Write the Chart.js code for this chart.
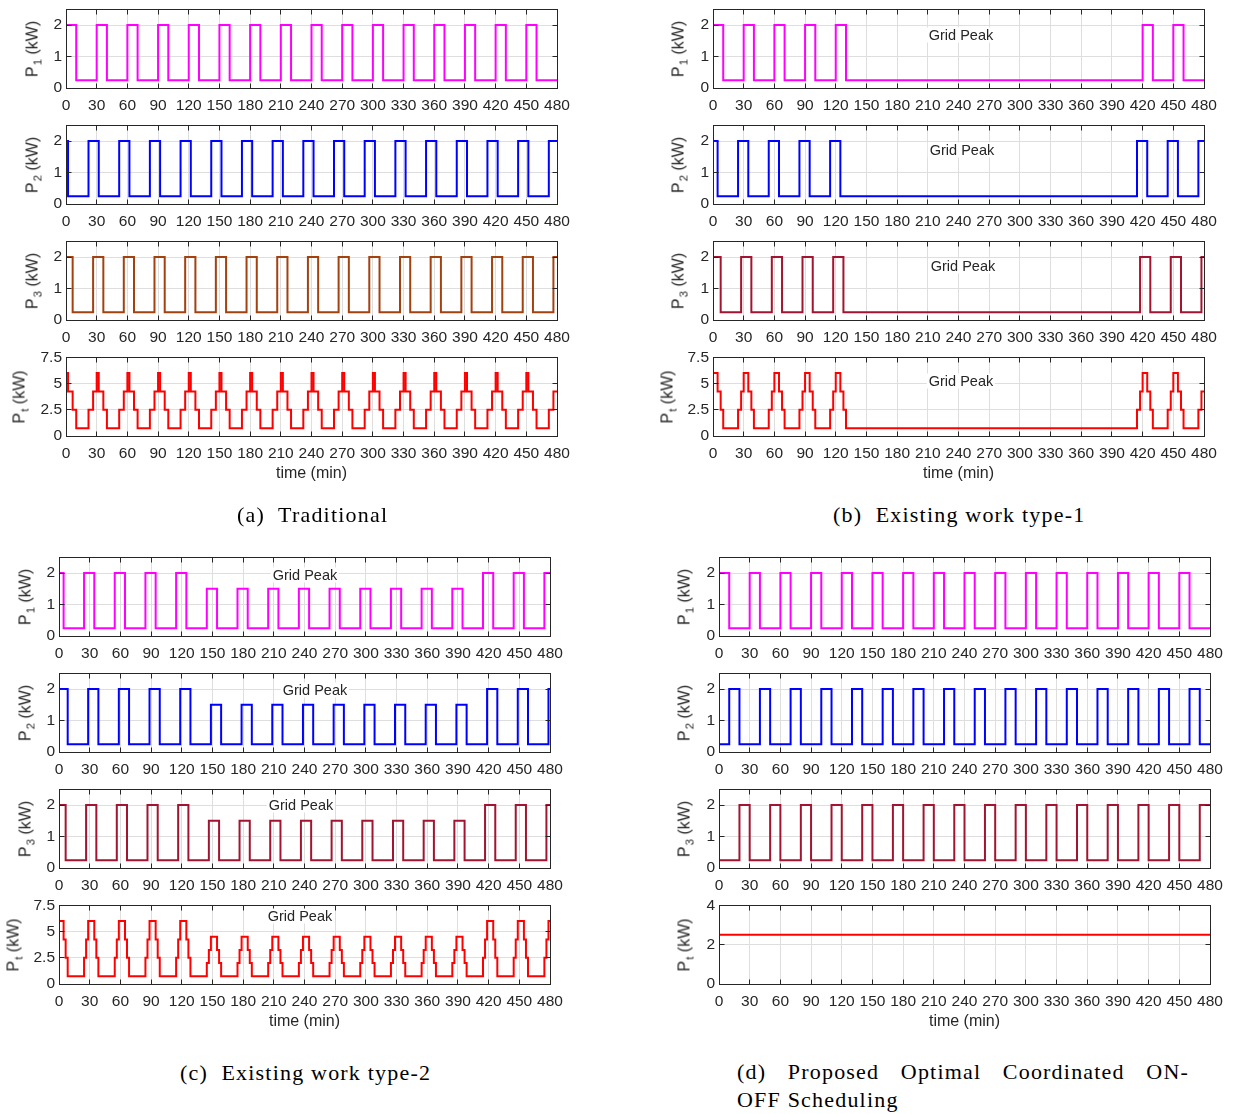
<!DOCTYPE html>
<html>
<head>
<meta charset="utf-8">
<script src="https://cdn.jsdelivr.net/npm/chart.js@4.4.0/dist/chart.umd.min.js"></script>
<style>
html,body{margin:0;padding:0;background:#fff;}
#fig{position:relative;width:1235px;height:1114px;overflow:hidden;background:#fff;}
#fig canvas{position:absolute;}
.ylab{position:absolute;font-family:"Liberation Sans",Arial,sans-serif;font-size:16px;line-height:16px;color:#262626;white-space:nowrap;transform:translate(-50%,-50%) rotate(-90deg);}
.ylab .s{font-size:11.5px;position:relative;top:4px;margin-left:1px;}
.xlab{position:absolute;font-family:"Liberation Sans",Arial,sans-serif;font-size:16px;color:#262626;white-space:nowrap;transform:translate(-50%,-50%);}
.gp{position:absolute;font-family:"Liberation Sans",Arial,sans-serif;font-size:14.5px;line-height:15px;color:#262626;background:#fff;padding:0 2px;white-space:nowrap;transform:translate(-50%,-50%);}
.cap{position:absolute;font-family:"Liberation Serif","Times New Roman",serif;font-size:22px;color:#000;white-space:pre;letter-spacing:1.2px;}
</style>
</head>
<body>
<div id="fig"></div>
<script>
// ---------- tick labels ----------
const X_TICKS = [0,30,60,90,120,150,180,210,240,270,300,330,360,390,420,450,480];
const P_YTICKS = [0,1,2];
const PT_YTICKS = [0,2.5,5,7.5];
const PT_D_YTICKS = [0,2,4];

// ---------- (a) Traditional ----------
const A_P1_T = [0,10,30,40,60,70,90,100,120,130,150,160,180,190,210,220,240,250,270,280,300,310,330,340,360,370,390,400,420,430,450,460,480];
const A_P1_V = [2,0.25,2,0.25,2,0.25,2,0.25,2,0.25,2,0.25,2,0.25,2,0.25,2,0.25,2,0.25,2,0.25,2,0.25,2,0.25,2,0.25,2,0.25,2,0.25,0.25];
const A_P2_T = [0,2,22,32,52,62,82,92,112,122,142,152,172,182,202,212,232,242,262,272,292,302,322,332,352,362,382,392,412,422,442,452,472,480];
const A_P2_V = [2,0.25,2,0.25,2,0.25,2,0.25,2,0.25,2,0.25,2,0.25,2,0.25,2,0.25,2,0.25,2,0.25,2,0.25,2,0.25,2,0.25,2,0.25,2,0.25,2,2];
const A_P3_T = [0,6.5,26.5,36.5,56.5,66.5,86.5,96.5,116.5,126.5,146.5,156.5,176.5,186.5,206.5,216.5,236.5,246.5,266.5,276.5,296.5,306.5,326.5,336.5,356.5,366.5,386.5,396.5,416.5,426.5,446.5,456.5,476.5,480];
const A_P3_V = [2,0.25,2,0.25,2,0.25,2,0.25,2,0.25,2,0.25,2,0.25,2,0.25,2,0.25,2,0.25,2,0.25,2,0.25,2,0.25,2,0.25,2,0.25,2,0.25,2,2];
const A_PT_T = [0,2,6.5,10,
  22,26.5,30,32,36.5,40,
  52,56.5,60,62,66.5,70,
  82,86.5,90,92,96.5,100,
  112,116.5,120,122,126.5,130,
  142,146.5,150,152,156.5,160,
  172,176.5,180,182,186.5,190,
  202,206.5,210,212,216.5,220,
  232,236.5,240,242,246.5,250,
  262,266.5,270,272,276.5,280,
  292,296.5,300,302,306.5,310,
  322,326.5,330,332,336.5,340,
  352,356.5,360,362,366.5,370,
  382,386.5,390,392,396.5,400,
  412,416.5,420,422,426.5,430,
  442,446.5,450,452,456.5,460,
  472,476.5,480];
const A_PT_V = [6,4.25,2.5,0.75,
  2.5,4.25,6,4.25,2.5,0.75,
  2.5,4.25,6,4.25,2.5,0.75,
  2.5,4.25,6,4.25,2.5,0.75,
  2.5,4.25,6,4.25,2.5,0.75,
  2.5,4.25,6,4.25,2.5,0.75,
  2.5,4.25,6,4.25,2.5,0.75,
  2.5,4.25,6,4.25,2.5,0.75,
  2.5,4.25,6,4.25,2.5,0.75,
  2.5,4.25,6,4.25,2.5,0.75,
  2.5,4.25,6,4.25,2.5,0.75,
  2.5,4.25,6,4.25,2.5,0.75,
  2.5,4.25,6,4.25,2.5,0.75,
  2.5,4.25,6,4.25,2.5,0.75,
  2.5,4.25,6,4.25,2.5,0.75,
  2.5,4.25,6,4.25,2.5,0.75,
  2.5,4.25,4.25];

// ---------- (b) Existing work type-1 ----------
const B_P1_T = [0,10,30,40,60,70,90,100,120,130,420,430,450,460,480];
const B_P1_V = [2,0.25,2,0.25,2,0.25,2,0.25,2,0.25,2,0.25,2,0.25,0.25];
const B_P2_T = [0,4.5,24.5,34.5,54.5,64.5,84.5,94.5,114.5,124.5,414.5,424.5,444.5,454.5,474.5,480];
const B_P2_V = [2,0.25,2,0.25,2,0.25,2,0.25,2,0.25,2,0.25,2,0.25,2,2];
const B_P3_T = [0,7.5,27.5,37.5,57.5,67.5,87.5,97.5,117.5,127.5,417.5,427.5,447.5,457.5,477.5,480];
const B_P3_V = [2,0.25,2,0.25,2,0.25,2,0.25,2,0.25,2,0.25,2,0.25,2,2];
const B_PT_T = [0,4.5,7.5,10,
  24.5,27.5,30,34.5,37.5,40,
  54.5,57.5,60,64.5,67.5,70,
  84.5,87.5,90,94.5,97.5,100,
  114.5,117.5,120,124.5,127.5,130,
  414.5,417.5,420,424.5,427.5,430,
  444.5,447.5,450,454.5,457.5,460,
  474.5,477.5,480];
const B_PT_V = [6,4.25,2.5,0.75,
  2.5,4.25,6,4.25,2.5,0.75,
  2.5,4.25,6,4.25,2.5,0.75,
  2.5,4.25,6,4.25,2.5,0.75,
  2.5,4.25,6,4.25,2.5,0.75,
  2.5,4.25,6,4.25,2.5,0.75,
  2.5,4.25,6,4.25,2.5,0.75,
  2.5,4.25,4.25];

// ---------- (c) Existing work type-2 ----------
const C_P1_T = [0,4.5,24.5,34.5,54.5,64.5,84.5,94.5,114.5,124.5,144.5,154.5,174.5,184.5,204.5,214.5,234.5,244.5,264.5,274.5,294.5,304.5,324.5,334.5,354.5,364.5,384.5,394.5,414.5,424.5,444.5,454.5,474.5,480];
const C_P1_V = [2,0.25,2,0.25,2,0.25,2,0.25,2,0.25,1.5,0.25,1.5,0.25,1.5,0.25,1.5,0.25,1.5,0.25,1.5,0.25,1.5,0.25,1.5,0.25,1.5,0.25,2,0.25,2,0.25,2,2];
const C_P2_T = [0,8.5,28.5,38.5,58.5,68.5,88.5,98.5,118.5,128.5,148.5,158.5,178.5,188.5,208.5,218.5,238.5,248.5,268.5,278.5,298.5,308.5,328.5,338.5,358.5,368.5,388.5,398.5,418.5,428.5,448.5,458.5,478.5,480];
const C_P2_V = [2,0.25,2,0.25,2,0.25,2,0.25,2,0.25,1.5,0.25,1.5,0.25,1.5,0.25,1.5,0.25,1.5,0.25,1.5,0.25,1.5,0.25,1.5,0.25,1.5,0.25,2,0.25,2,0.25,2,2];
const C_P3_T = [0,6.5,26.5,36.5,56.5,66.5,86.5,96.5,116.5,126.5,146.5,156.5,176.5,186.5,206.5,216.5,236.5,246.5,266.5,276.5,296.5,306.5,326.5,336.5,356.5,366.5,386.5,396.5,416.5,426.5,446.5,456.5,476.5,480];
const C_P3_V = [2,0.25,2,0.25,2,0.25,2,0.25,2,0.25,1.5,0.25,1.5,0.25,1.5,0.25,1.5,0.25,1.5,0.25,1.5,0.25,1.5,0.25,1.5,0.25,1.5,0.25,2,0.25,2,0.25,2,2];
const C_PT_T = [0,4.5,6.5,8.5,
  24.5,26.5,28.5,34.5,36.5,38.5,
  54.5,56.5,58.5,64.5,66.5,68.5,
  84.5,86.5,88.5,94.5,96.5,98.5,
  114.5,116.5,118.5,124.5,126.5,128.5,
  144.5,146.5,148.5,154.5,156.5,158.5,
  174.5,176.5,178.5,184.5,186.5,188.5,
  204.5,206.5,208.5,214.5,216.5,218.5,
  234.5,236.5,238.5,244.5,246.5,248.5,
  264.5,266.5,268.5,274.5,276.5,278.5,
  294.5,296.5,298.5,304.5,306.5,308.5,
  324.5,326.5,328.5,334.5,336.5,338.5,
  354.5,356.5,358.5,364.5,366.5,368.5,
  384.5,386.5,388.5,394.5,396.5,398.5,
  414.5,416.5,418.5,424.5,426.5,428.5,
  444.5,446.5,448.5,454.5,456.5,458.5,
  474.5,476.5,478.5,480];
const C_PT_V = [6,4.25,2.5,0.75,
  2.5,4.25,6,4.25,2.5,0.75,
  2.5,4.25,6,4.25,2.5,0.75,
  2.5,4.25,6,4.25,2.5,0.75,
  2.5,4.25,6,4.25,2.5,0.75,
  2,3.25,4.5,3.25,2,0.75,
  2,3.25,4.5,3.25,2,0.75,
  2,3.25,4.5,3.25,2,0.75,
  2,3.25,4.5,3.25,2,0.75,
  2,3.25,4.5,3.25,2,0.75,
  2,3.25,4.5,3.25,2,0.75,
  2,3.25,4.5,3.25,2,0.75,
  2,3.25,4.5,3.25,2,0.75,
  2,3.25,4.5,3.25,2,0.75,
  2.5,4.25,6,4.25,2.5,0.75,
  2.5,4.25,6,4.25,2.5,0.75,
  2.5,4.25,6,6];

// ---------- (d) Proposed optimal coordinated ON-OFF scheduling ----------
const D_P1_T = [0,10,30,40,60,70,90,100,120,130,150,160,180,190,210,220,240,250,270,280,300,310,330,340,360,370,390,400,420,430,450,460,480];
const D_P1_V = [2,0.25,2,0.25,2,0.25,2,0.25,2,0.25,2,0.25,2,0.25,2,0.25,2,0.25,2,0.25,2,0.25,2,0.25,2,0.25,2,0.25,2,0.25,2,0.25,0.25];
const D_P2_T = [0,10,20,40,50,70,80,100,110,130,140,160,170,190,200,220,230,250,260,280,290,310,320,340,350,370,380,400,410,430,440,460,470,480];
const D_P2_V = [0.25,2,0.25,2,0.25,2,0.25,2,0.25,2,0.25,2,0.25,2,0.25,2,0.25,2,0.25,2,0.25,2,0.25,2,0.25,2,0.25,2,0.25,2,0.25,2,0.25,0.25];
const D_P3_T = [0,20,30,50,60,80,90,110,120,140,150,170,180,200,210,230,240,260,270,290,300,320,330,350,360,380,390,410,420,440,450,470,480];
const D_P3_V = [0.25,2,0.25,2,0.25,2,0.25,2,0.25,2,0.25,2,0.25,2,0.25,2,0.25,2,0.25,2,0.25,2,0.25,2,0.25,2,0.25,2,0.25,2,0.25,2,2];
const D_PT_T = [0,480];
const D_PT_V = [2.5,2.5];

// ---------- colours ----------
const C_MAGENTA = '#ff00ff', C_BLUE = '#0000ff', C_BROWN = '#a3410f', C_CRIMSON = '#a2142f', C_RED = '#ff0000';

// ---------- layout ----------
const PLOT_W = 491, PLOT_H = 80;
const YAXW = 50, XAXH = 32, PAD_T = 12, PAD_R = 22;
const GEOM = {
  a:{left:66, tops:[9,125,241,357]},
  b:{left:713, tops:[9,125,241,357]},
  c:{left:59, tops:[557,673,789,905]},
  d:{left:719, tops:[557,673,789,905]}
};
const fig = document.getElementById('fig');
const SANS = '"Liberation Sans", Arial, sans-serif';
const GRID = '#dedede', AXC = '#262626';

const boxPlugin = {
  id:'matlabBox',
  afterDraw(chart){
    const ctx = chart.ctx, a = chart.chartArea, xs = chart.scales.x, ys = chart.scales.y;
    const al = v => Math.floor(v) + 0.5;
    ctx.save();
    ctx.strokeStyle = AXC; ctx.lineWidth = 1;
    ctx.beginPath();
    const L = al(a.left), R = al(a.right), T = al(a.top), B = al(a.bottom);
    xs.ticks.forEach(t => {
      const px = al(xs.getPixelForValue(t.value));
      ctx.moveTo(px, B); ctx.lineTo(px, B - 5);
      ctx.moveTo(px, T); ctx.lineTo(px, T + 5);
    });
    ys.ticks.forEach(t => {
      const py = al(ys.getPixelForValue(t.value));
      ctx.moveTo(L, py); ctx.lineTo(L + 5, py);
      ctx.moveTo(R, py); ctx.lineTo(R - 5, py);
    });
    ctx.stroke();
    ctx.strokeRect(L, T, R - L, B - T);
    ctx.restore();
  }
};

function makePlot(panel, row, T, V, color, yMax, yTicks, sub, ylabOff) {
  const g = GEOM[panel];
  const left = g.left, top = g.tops[row];
  const cv = document.createElement('canvas');
  const W = YAXW + PLOT_W + PAD_R, H = PAD_T + PLOT_H + XAXH;
  cv.width = W; cv.height = H;
  cv.style.width = W + 'px'; cv.style.height = H + 'px';
  fig.appendChild(cv);
  const pts = T.map((t, i) => ({x:t, y:V[i]}));
  const chart = new Chart(cv, {
    type:'line',
    data:{datasets:[{data:pts, borderColor:color, borderWidth:2, pointRadius:0, fill:false,
      stepped:'before', tension:0, borderJoinStyle:'miter', borderCapStyle:'butt'}]},
    options:{
      responsive:false, animation:false, events:[],
      layout:{padding:{top:PAD_T, right:PAD_R, left:0, bottom:0}},
      plugins:{legend:{display:false}, tooltip:{enabled:false}},
      scales:{
        x:{type:'linear', min:0, max:480,
          afterBuildTicks: ax => { ax.ticks = X_TICKS.map(v => ({value:v})); },
          afterFit: ax => { ax.height = XAXH; },
          grid:{color:GRID, lineWidth:1, drawTicks:false},
          border:{display:false},
          ticks:{color:AXC, font:{family:SANS, size:15.5}, padding:8, maxRotation:0, autoSkip:false,
            callback: v => String(v)}},
        y:{type:'linear', min:0, max:yMax,
          afterBuildTicks: ax => { ax.ticks = yTicks.map(v => ({value:v})); },
          afterFit: ax => { ax.width = YAXW; },
          grid:{color:GRID, lineWidth:1, drawTicks:false},
          border:{display:false},
          ticks:{color:AXC, font:{family:SANS, size:15.5}, padding:4,
            callback: v => String(v)}}
      }
    },
    plugins:[boxPlugin]
  });
  // make the chart area exactly PLOT_W x PLOT_H
  for (let i = 0; i < 4; i++) {
    const ca = chart.chartArea;
    const dw = PLOT_W - (ca.right - ca.left), dh = PLOT_H - (ca.bottom - ca.top);
    if (Math.abs(dw) < 0.5 && Math.abs(dh) < 0.5) break;
    chart.resize(Math.round(chart.width + dw), Math.round(chart.height + dh));
  }
  const ca = chart.chartArea;
  cv.style.left = (left - ca.left) + 'px';
  cv.style.top = (top - ca.top) + 'px';
  // y axis label
  const yl = document.createElement('div');
  yl.className = 'ylab';
  yl.innerHTML = 'P<span class="s">' + sub + '</span> (kW)';
  yl.style.left = (left - ylabOff) + 'px';
  yl.style.top = (top + PLOT_H / 2) + 'px';
  fig.appendChild(yl);
  return chart;
}

function addText(cls, html, x, y) {
  const d = document.createElement('div');
  d.className = cls; d.innerHTML = html;
  d.style.left = x + 'px'; d.style.top = y + 'px';
  fig.appendChild(d);
  return d;
}

// (a)
makePlot('a',0,A_P1_T,A_P1_V,C_MAGENTA,2.5,P_YTICKS,'1',33.5);
makePlot('a',1,A_P2_T,A_P2_V,C_BLUE,2.5,P_YTICKS,'2',33.5);
makePlot('a',2,A_P3_T,A_P3_V,C_BROWN,2.5,P_YTICKS,'3',33.5);
makePlot('a',3,A_PT_T,A_PT_V,C_RED,7.5,PT_YTICKS,'t',46);
// (b)
makePlot('b',0,B_P1_T,B_P1_V,C_MAGENTA,2.5,P_YTICKS,'1',34);
makePlot('b',1,B_P2_T,B_P2_V,C_BLUE,2.5,P_YTICKS,'2',34);
makePlot('b',2,B_P3_T,B_P3_V,C_CRIMSON,2.5,P_YTICKS,'3',34);
makePlot('b',3,B_PT_T,B_PT_V,C_RED,7.5,PT_YTICKS,'t',45);
// (c)
makePlot('c',0,C_P1_T,C_P1_V,C_MAGENTA,2.5,P_YTICKS,'1',33.5);
makePlot('c',1,C_P2_T,C_P2_V,C_BLUE,2.5,P_YTICKS,'2',33.5);
makePlot('c',2,C_P3_T,C_P3_V,C_CRIMSON,2.5,P_YTICKS,'3',33.5);
makePlot('c',3,C_PT_T,C_PT_V,C_RED,7.5,PT_YTICKS,'t',45.5);
// (d)
makePlot('d',0,D_P1_T,D_P1_V,C_MAGENTA,2.5,P_YTICKS,'1',34);
makePlot('d',1,D_P2_T,D_P2_V,C_BLUE,2.5,P_YTICKS,'2',34);
makePlot('d',2,D_P3_T,D_P3_V,C_CRIMSON,2.5,P_YTICKS,'3',34);
makePlot('d',3,D_PT_T,D_PT_V,C_RED,4,PT_D_YTICKS,'t',34);

// Grid Peak annotations
addText('gp','Grid Peak',961,35);
addText('gp','Grid Peak',962,150);
addText('gp','Grid Peak',963,266);
addText('gp','Grid Peak',961,381);
addText('gp','Grid Peak',305,575);
addText('gp','Grid Peak',315,690);
addText('gp','Grid Peak',301,805);
addText('gp','Grid Peak',300,916);

// x axis titles
addText('xlab','time (min)',311.5,473);
addText('xlab','time (min)',958.5,473);
addText('xlab','time (min)',304.5,1021);
addText('xlab','time (min)',964.5,1021);

// captions
function cap(text, x, y, w, justify) {
  const d = document.createElement('div');
  d.className = 'cap'; d.textContent = text;
  d.style.left = x + 'px'; d.style.top = y + 'px';
  if (w) { d.style.width = w + 'px'; }
  if (justify) { d.style.whiteSpace = 'normal'; d.style.textAlign = 'justify'; d.style.textAlignLast = 'justify'; }
  fig.appendChild(d);
}
cap('(a)  Traditional', 237, 502);
cap('(b)  Existing work type-1', 833, 502);
cap('(c)  Existing work type-2', 180, 1060);
cap('(d) Proposed Optimal Coordinated ON-', 737, 1059, 452, true);
cap('OFF Scheduling', 737, 1087);
</script>
</body>
</html>
